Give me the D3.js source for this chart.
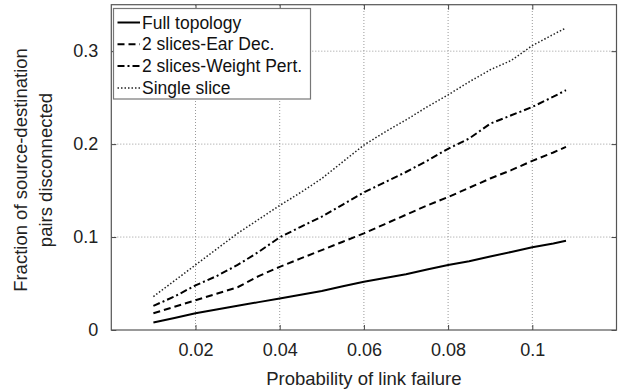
<!DOCTYPE html>
<html>
<head>
<meta charset="utf-8">
<script src="https://cdn.jsdelivr.net/npm/d3@7"></script>
<style>
  body { margin: 0; background: #fff; }
  svg { display: block; font-family: "Liberation Sans", Arial, sans-serif; }
</style>
</head>
<body>
<svg id="chart"></svg>
<script>
// probability of link failure
const xs = [0.01, 0.015, 0.02, 0.025, 0.03, 0.035, 0.04, 0.045, 0.05, 0.055, 0.06,
            0.065, 0.07, 0.075, 0.08, 0.085, 0.09, 0.095, 0.1, 0.105, 0.108];
const fullTopology = [0.008, 0.013, 0.018, 0.022, 0.026, 0.030, 0.034, 0.038, 0.042, 0.047, 0.052,
                      0.056, 0.060, 0.065, 0.070, 0.074, 0.079, 0.084, 0.089, 0.093, 0.096];
const earDec = [0.018, 0.025, 0.032, 0.039, 0.046, 0.058, 0.068, 0.077, 0.086, 0.095, 0.104,
                0.114, 0.124, 0.134, 0.143, 0.153, 0.163, 0.172, 0.182, 0.191, 0.197];
const weightPert = [0.026, 0.036, 0.048, 0.058, 0.070, 0.084, 0.0997, 0.111, 0.122, 0.135, 0.148,
                    0.159, 0.170, 0.182, 0.195, 0.206, 0.222, 0.231, 0.240, 0.251, 0.258];
const singleSlice = [0.036, 0.053, 0.070, 0.087, 0.104, 0.119, 0.134, 0.148, 0.163, 0.181, 0.199,
                     0.213, 0.226, 0.240, 0.253, 0.267, 0.280, 0.290, 0.306, 0.318, 0.325];
const seriesNames = ["Full topology", "2 slices-Ear Dec.", "2 slices-Weight Pert.", "Single slice"];
const xTicks = [0.02, 0.04, 0.06, 0.08, 0.1];
const yTicks = [0, 0.1, 0.2, 0.3];

const width = 623, height = 392;
const margin = {top: 4.7, right: 6.5, bottom: 62, left: 111.3};

const svg = d3.select("#chart").attr("width", width).attr("height", height);

const x = d3.scaleLinear().domain([0, 0.12]).range([margin.left, width - margin.right]);
const y = d3.scaleLinear().domain([0, 0.35]).range([height - margin.bottom, margin.top]);

const styles = [
  {dash: null, width: 2, color: "#000"},
  {dash: "7,4", width: 2, color: "#000"},
  {dash: "7,3,2,3", width: 2, color: "#000"},
  {dash: "1.5,2", width: 1.5, color: "#222"}
];
const series = [fullTopology, earDec, weightPert, singleSlice];

// grid
const grid = svg.append("g").attr("stroke", "#999").attr("stroke-width", 1)
  .attr("stroke-dasharray", "1,2");
grid.selectAll(".gx").data(xTicks).join("line")
  .attr("x1", d => x(d)).attr("x2", d => x(d))
  .attr("y1", y.range()[0]).attr("y2", y.range()[1]);
grid.selectAll(".gy").data(yTicks.filter(d => d > 0)).join("line")
  .attr("y1", d => y(d)).attr("y2", d => y(d))
  .attr("x1", x.range()[0]).attr("x2", x.range()[1]);

// axes
const fmt = d => d === 0 ? "0" : String(d);
const axisB = svg.append("g").attr("transform", `translate(0,${y(0)})`)
  .call(d3.axisBottom(x).tickValues(xTicks).tickFormat(fmt).tickSizeInner(-5).tickSizeOuter(0).tickPadding(13));
const axisT = svg.append("g").attr("transform", `translate(0,${margin.top})`)
  .call(d3.axisTop(x).tickValues(xTicks).tickFormat("").tickSizeInner(-5).tickSizeOuter(0));
const axisL = svg.append("g").attr("transform", `translate(${margin.left},0)`)
  .call(d3.axisLeft(y).tickValues(yTicks).tickFormat(fmt).tickSizeInner(-5).tickSizeOuter(0).tickPadding(13));
const axisR = svg.append("g").attr("transform", `translate(${width - margin.right},0)`)
  .call(d3.axisRight(y).tickValues(yTicks).tickFormat("").tickSizeInner(-5).tickSizeOuter(0));

[axisB, axisT, axisL, axisR].forEach(a => {
  a.select(".domain").remove();
  a.selectAll("line").attr("stroke", "#444");
  a.selectAll("text").attr("font-size", 18).attr("fill", "#222")
    .attr("font-family", "'Liberation Sans', Arial, sans-serif");
});

// frame
svg.append("rect")
  .attr("x", margin.left).attr("y", margin.top)
  .attr("width", x.range()[1] - x.range()[0])
  .attr("height", y.range()[0] - y.range()[1])
  .attr("fill", "none").attr("stroke", "#555").attr("stroke-width", 1.2);

// lines
const line = d3.line().x((d, i) => x(xs[i])).y(d => y(d));
svg.append("g").selectAll("path").data(series).join("path")
  .attr("d", line)
  .attr("fill", "none")
  .attr("stroke", (d, i) => styles[i].color)
  .attr("stroke-width", (d, i) => styles[i].width)
  .attr("stroke-dasharray", (d, i) => styles[i].dash);

// legend
const legend = svg.append("g");
legend.append("rect")
  .attr("x", 113.5).attr("y", 8.5).attr("width", 197).attr("height", 90.5)
  .attr("fill", "#fff").attr("stroke", "#777").attr("stroke-width", 1.2);
const rows = legend.selectAll("g.row").data(seriesNames).join("g")
  .attr("transform", (d, i) => `translate(0,${22.5 + i * 21.8})`);
rows.append("line")
  .attr("x1", 117.5).attr("x2", 140).attr("y1", 0).attr("y2", 0)
  .attr("stroke", (d, i) => styles[i].color)
  .attr("stroke-width", (d, i) => styles[i].width)
  .attr("stroke-dasharray", (d, i) => styles[i].dash);
rows.append("text")
  .attr("x", 142).attr("y", 0).attr("dy", "0.35em")
  .attr("font-size", 17.5).attr("fill", "#111")
  .text(d => d);

// axis titles
svg.append("text")
  .attr("x", (x.range()[0] + x.range()[1]) / 2).attr("y", 385)
  .attr("text-anchor", "middle").attr("font-size", 18.5).attr("fill", "#222")
  .text("Probability of link failure");

const yTitle = svg.append("text")
  .attr("transform", `translate(0,170) rotate(-90)`)
  .attr("text-anchor", "middle").attr("font-size", 18.5).attr("fill", "#222");
yTitle.append("tspan").attr("x", 0).attr("y", 27).text("Fraction of source-destination");
yTitle.append("tspan").attr("x", 0).attr("y", 52).text("pairs disconnected");
</script>
</body>
</html>
